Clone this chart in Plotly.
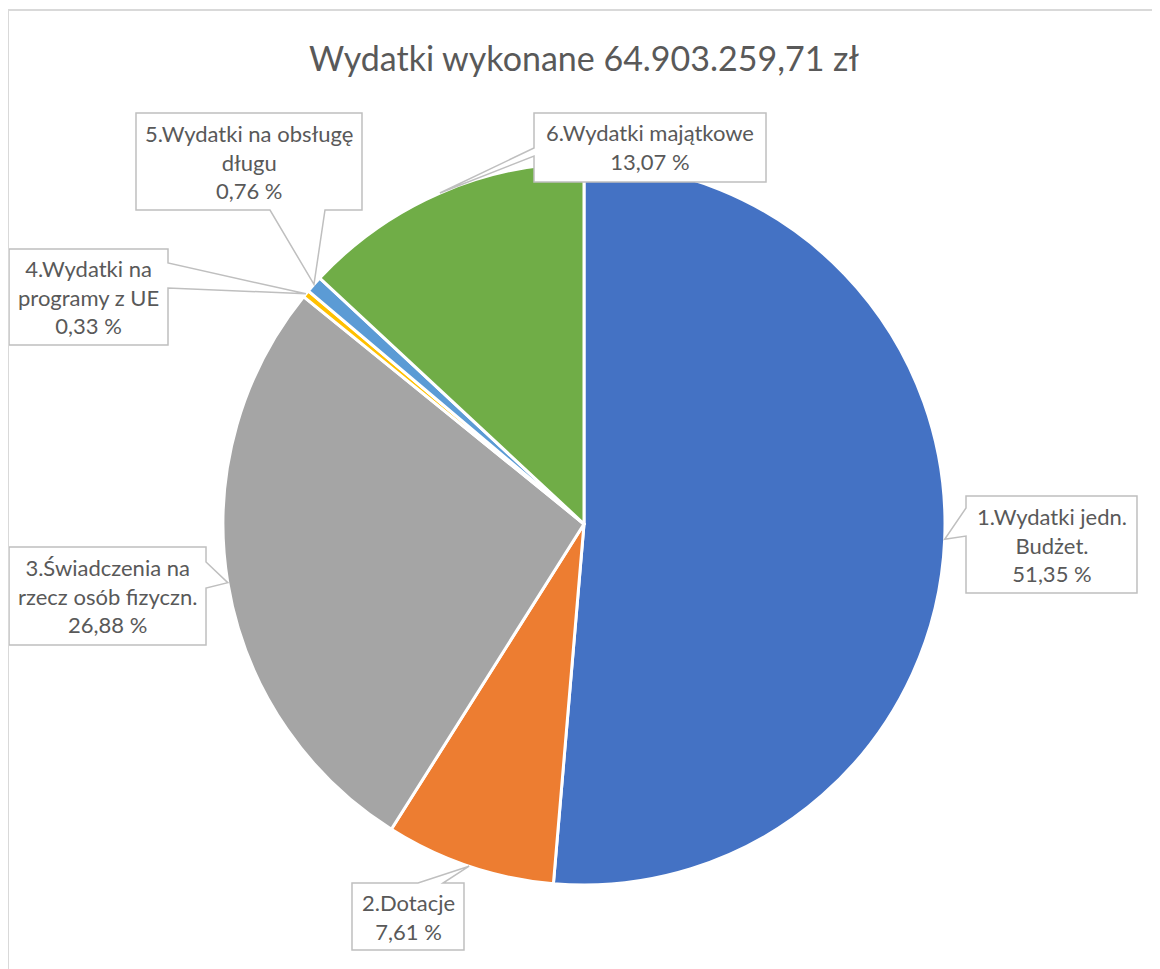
import math
import plotly.graph_objects as go

# ---- data ----
labels = ["1.Wydatki jedn.<br>Budżet.", "2.Dotacje", "3.Świadczenia na<br>rzecz osób fizyczn.",
          "4.Wydatki na<br>programy z UE", "5.Wydatki na obsługę<br>długu", "6.Wydatki majątkowe"]
values = [51.35, 7.61, 26.88, 0.33, 0.76, 13.07]
pct_text = ["51,35 %", "7,61 %", "26,88 %", "0,33 %", "0,76 %", "13,07 %"]
colors = ["#4472C4", "#ED7D31", "#A5A5A5", "#FFC000", "#5B9BD5", "#70AD47"]
title_text = "Wydatki wykonane 64.903.259,71 zł"

# page body has an 8px default margin; the figure is sized to fit the window
OFF = 8
W, H = 1160 - OFF, 969 - OFF
CX, CY, R = 584, 524, 361  # pie layout in window pixels

# callout boxes (window pixel layout): x0, y0, x1, y1, side of wedge, base start, base end
boxes = [
    (966, 496, 1137, 593, "left", 508, 536),
    (352, 883, 464, 950, "top", 418, 443),
    (9, 547, 206, 645, "right", 562, 588),
    (9, 249, 168, 345, "right", 263, 288),
    (136, 113, 362, 210, "bottom", 270, 325),
    (534, 113, 766, 182, "left", 148, 156),
]

def px(x):
    return (x - OFF) / W

def py(y):
    return 1 - (y - OFF) / H

fig = go.Figure()
fig.add_trace(go.Pie(
    values=values,
    labels=[l.replace("<br>", " ") for l in labels],
    marker=dict(colors=colors, line=dict(color="white", width=3)),
    sort=False, direction="clockwise", rotation=0,
    textinfo="none", hoverinfo="label+percent", showlegend=False,
    domain=dict(x=[px(CX - R), px(CX + R)], y=[py(CY + R), py(CY - R)]),
))

shapes = []
annotations = []
total = sum(values)
cum = 0.0
for i, v in enumerate(values):
    mid = (cum + v / 2) / total * 2 * math.pi
    cum += v
    tx = CX + R * math.sin(mid)
    ty = CY - R * math.cos(mid)
    x0, y0, x1, y1, side, b1, b2 = boxes[i]
    if side == "left":
        pts = [(x0, y0), (x1, y0), (x1, y1), (x0, y1), (x0, b2), (tx, ty), (x0, b1)]
    elif side == "right":
        pts = [(x0, y0), (x1, y0), (x1, b1), (tx, ty), (x1, b2), (x1, y1), (x0, y1)]
    elif side == "bottom":
        pts = [(x0, y0), (x1, y0), (x1, y1), (b2, y1), (tx, ty), (b1, y1), (x0, y1)]
    else:  # top
        pts = [(x0, y0), (b1, y0), (tx, ty), (b2, y0), (x1, y0), (x1, y1), (x0, y1)]
    path = "M " + " L ".join(f"{px(a):.5f},{py(b):.5f}" for a, b in pts) + " Z"
    shapes.append(dict(type="path", path=path, xref="paper", yref="paper",
                       fillcolor="white", line=dict(color="#BFBFBF", width=1.5), layer="above"))
    annotations.append(dict(
        x=px((x0 + x1) / 2), y=py((y0 + y1) / 2), xref="paper", yref="paper",
        xanchor="center", yanchor="middle", showarrow=False, align="center",
        text=labels[i] + "<br>" + pct_text[i],
        font=dict(family="Lato", size=22, color="#595959"),
    ))

# chart border
shapes.append(dict(type="rect", xref="paper", yref="paper",
                   x0=px(8), x1=px(1158), y0=-0.02, y1=py(10),
                   line=dict(color="#D9D9D9", width=2), fillcolor="rgba(0,0,0,0)", layer="above"))

annotations.append(dict(
    x=px(584), y=py(57), xref="paper", yref="paper", xanchor="center", yanchor="middle",
    showarrow=False, text=title_text, font=dict(family="Lato", size=34, color="#595959"),
))

fig.update_layout(
    width=W, height=H, autosize=False,
    margin=dict(l=0, r=0, t=0, b=0),
    paper_bgcolor="white", plot_bgcolor="white",
    shapes=shapes, annotations=annotations,
)

fig.write_html("out.html")
